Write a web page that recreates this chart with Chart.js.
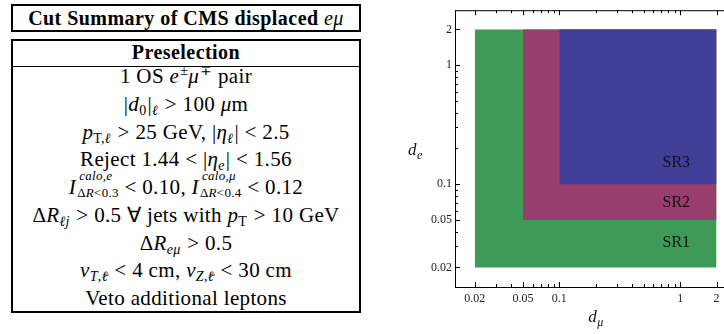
<!DOCTYPE html>
<html><head><meta charset="utf-8">
<script src="https://cdn.jsdelivr.net/npm/chart.js@4.4.1/dist/chart.umd.min.js"></script>
<style>
html,body{margin:0;padding:0;width:724px;height:334px;overflow:hidden;background:#fff;}
.tb{font-family:"Liberation Serif",serif;color:#000;}
.box{position:absolute;border:2px solid #000;box-sizing:border-box;}
#b1{left:11px;top:4px;width:350px;height:28px;}
#b2{left:11px;top:39px;width:350px;height:274px;}
#sep{position:absolute;left:13px;top:66px;width:346px;height:0;border-top:1.5px solid #000;}
.hd{position:absolute;left:13px;width:346px;text-align:center;font-weight:bold;font-size:20px;white-space:nowrap;letter-spacing:0.45px;}
#h1{top:6px;line-height:24px;}
#h2{top:41px;line-height:22px;}
#rows{position:absolute;left:13px;top:63px;width:346px;}
.r{height:27.75px;line-height:27.75px;text-align:center;font-size:21px;white-space:nowrap;letter-spacing:0.35px;}
sub,sup{font-size:14px;line-height:0;letter-spacing:0.3px;}
sub{vertical-align:-4px;padding-right:1px;}
sup{vertical-align:8px;padding-left:1px;}
.ss{position:relative;font-size:13px;top:3px;margin-left:1px;letter-spacing:0.3px;}
.ss .u{position:absolute;left:2px;top:-16px;line-height:13px;}
.tl{position:relative;display:inline-block;}
.tl::after{content:'~';position:absolute;left:0.05em;top:-0.62em;font-style:normal;font-size:0.9em;line-height:1;}
#cv{position:absolute;left:400px;top:0;}
</style>
</head><body>
<div class="tb">
  <div class="box" id="b1"></div>
  <div class="hd" id="h1">Cut Summary of CMS displaced <i style="font-weight:normal">eμ</i></div>
  <div class="box" id="b2"></div>
  <div id="sep"></div>
  <div class="hd" id="h2">Preselection</div>
  <div id="rows">
    <div class="r">1 OS <i>e</i><sup>±</sup><i>μ</i><sup>∓</sup> pair</div>
    <div class="r">|<i>d</i><sub>0</sub>|<sub><i>ℓ</i></sub> &gt; 100 <i>μ</i>m</div>
    <div class="r"><i>p</i><sub>T,<i>ℓ</i></sub> &gt; 25 GeV, |<i>η</i><sub><i>ℓ</i></sub>| &lt; 2.5</div>
    <div class="r">Reject 1.44 &lt; |<i>η</i><sub><i>e</i></sub>| &lt; 1.56</div>
    <div class="r"><i>I</i><span class="ss"><span class="u"><i>calo,e</i></span>Δ<i>R</i>&lt;0.3</span> &lt; 0.10, <i>I</i><span class="ss"><span class="u"><i>calo,μ</i></span>Δ<i>R</i>&lt;0.4</span> &lt; 0.12</div>
    <div class="r">Δ<i>R</i><sub><i>ℓj</i></sub> &gt; 0.5 ∀ jets with <i>p</i><sub>T</sub> &gt; 10 GeV</div>
    <div class="r">Δ<i>R</i><sub><i>eμ</i></sub> &gt; 0.5</div>
    <div class="r"><i>v</i><sub><i>T</i>,<i class="tl">ℓ</i></sub> &lt; 4 cm, <i>v</i><sub><i>Z</i>,<i class="tl">ℓ</i></sub> &lt; 30 cm</div>
    <div class="r">Veto additional leptons</div>
  </div>
</div>
<canvas id="cv" width="340" height="334" style="width:340px;height:334px"></canvas>
<script>
// ---- data ----
const regionNames = ['SR1', 'SR2', 'SR3'];
const dMuLow  = [0.02, 0.05, 0.1];
const dMuHigh = [2, 2, 2];
const dELow   = [0.02, 0.05, 0.1];
const dEHigh  = [2, 2, 2];
const labelDMu = [0.93, 0.93, 0.93];
const labelDE  = [0.032, 0.07, 0.15];
const tickLabels = [0.02, 0.05, 0.1, 1, 2];
const tickMarks = [0.02, 0.03, 0.04, 0.05, 0.06, 0.07, 0.08, 0.09, 0.1, 0.2, 0.3, 0.4, 0.5, 0.6, 0.7, 0.8, 0.9, 1, 2];
const axisMin = 0.0137, axisMax = 2.9;

// ---- styles ----
const fillColors = ['#3e9a57', '#983e6e', '#413e98'];
const FONT = 'Liberation Serif';

const datasets = regionNames.map((n, i) => ({
  label: n,
  data: [{x: dMuLow[i], y: dEHigh[i]}, {x: dMuHigh[i], y: dEHigh[i]}],
  fill: {value: dELow[i]},
  backgroundColor: fillColors[i],
  borderColor: 'rgba(0,0,0,0)',
  borderWidth: 0,
  pointRadius: 0,
  order: regionNames.length - i
}));

const decor = {
  id: 'decor',
  afterDraw(chart) {
    const ctx = chart.ctx;
    const a = chart.chartArea;
    const x = chart.scales.x, y = chart.scales.y;
    ctx.save();
    ctx.strokeStyle = '#000';
    ctx.lineWidth = 1;
    ctx.beginPath();
    ctx.moveTo(a.left, a.top + 0.5); ctx.lineTo(a.right, a.top + 0.5);
    ctx.stroke();
    for (const v of tickMarks) {
      const L = tickLabels.includes(v) ? 5 : 3;
      const px = Math.round(x.getPixelForValue(v)) + 0.5;
      const py = Math.round(y.getPixelForValue(v)) + 0.5;
      ctx.beginPath();
      ctx.moveTo(px, a.bottom); ctx.lineTo(px, a.bottom - L);
      ctx.moveTo(px, a.top); ctx.lineTo(px, a.top + L);
      ctx.moveTo(a.left, py); ctx.lineTo(a.left + L, py);
      ctx.stroke();
    }
    // region labels
    ctx.fillStyle = '#111';
    ctx.font = '16px "' + FONT + '"';
    ctx.textAlign = 'center';
    ctx.textBaseline = 'middle';
    regionNames.forEach((n, i) => {
      ctx.fillText(n, x.getPixelForValue(labelDMu[i]), y.getPixelForValue(labelDE[i]));
    });
    // axis titles d_mu and d_e
    ctx.textAlign = 'left';
    ctx.textBaseline = 'alphabetic';
    const drawSub = (cx, base, main, sub) => {
      ctx.font = 'italic 17px "' + FONT + '"';
      const w1 = ctx.measureText(main).width;
      ctx.font = 'italic 12px "' + FONT + '"';
      const w2 = ctx.measureText(sub).width;
      const x0 = cx - (w1 + w2) / 2;
      ctx.font = 'italic 17px "' + FONT + '"';
      ctx.fillText(main, x0, base);
      ctx.font = 'italic 12px "' + FONT + '"';
      ctx.fillText(sub, x0 + w1 + 0.5, base + 4);
    };
    drawSub((a.left + a.right) / 2, 322, 'd', 'μ');
    drawSub(15, (a.top + a.bottom) / 2 + 6, 'd', 'e');
    ctx.restore();
  }
};

const tickFont = {family: FONT, size: 12};
new Chart(document.getElementById('cv'), {
  type: 'line',
  data: {datasets},
  options: {
    responsive: false,
    animation: false,
    events: [],
    layout: {padding: {top: 8, right: 4, bottom: 0, left: 0}},
    plugins: {legend: {display: false}, tooltip: {enabled: false}},
    scales: {
      x: {
        type: 'logarithmic', position: 'bottom', min: axisMin, max: axisMax,
        afterBuildTicks: s => { s.ticks = tickLabels.map(v => ({value: v})); },
        afterFit: s => { s.height = 47; },
        grid: {display: false, drawTicks: false},
        border: {display: true, color: '#000', width: 1},
        ticks: {callback: v => String(v), autoSkip: false, maxRotation: 0, padding: 5, color: '#222', font: tickFont}
      },
      y: {
        type: 'logarithmic', position: 'left', min: axisMin, max: axisMax,
        afterBuildTicks: s => { s.ticks = tickLabels.map(v => ({value: v})); },
        afterFit: s => { s.width = 55; },
        grid: {display: false, drawTicks: false},
        border: {display: true, color: '#000', width: 1},
        ticks: {callback: v => String(v), autoSkip: false, padding: 3, color: '#222', font: tickFont}
      }
    }
  },
  plugins: [decor]
});
</script>
</body></html>
